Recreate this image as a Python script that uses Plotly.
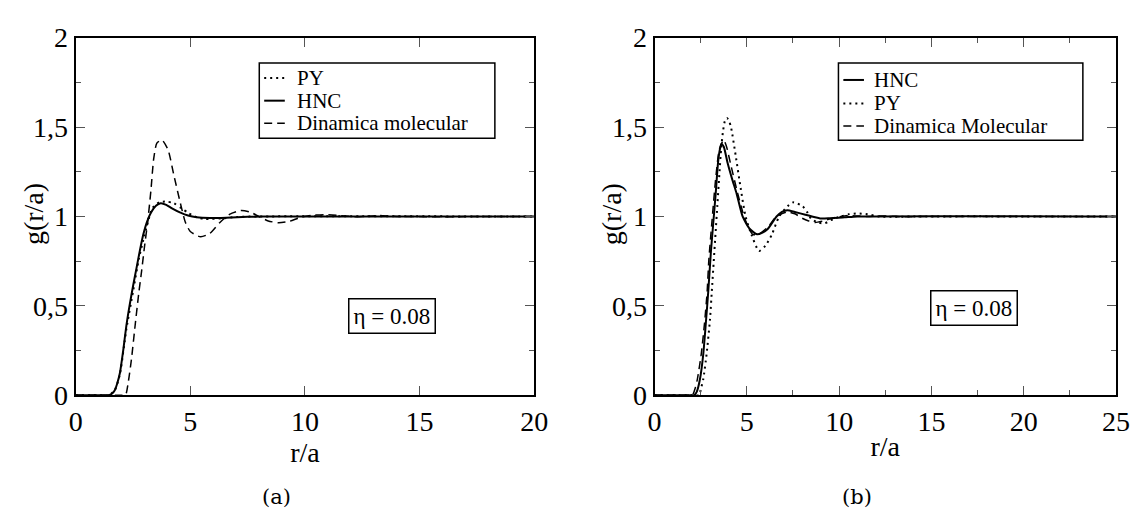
import plotly.graph_objects as go

W, H = 1143, 529

# ---------------- data ----------------
# Panel (a)
a_hnc_r = [0, 1.2, 1.43, 1.6, 1.71, 1.82, 1.93, 2.07, 2.21, 2.36, 2.5, 2.65, 2.8, 2.95, 3.11, 3.28, 3.5, 3.71,
           3.95, 4.2, 4.57, 4.9, 5.28, 5.85, 6.57, 7.5, 8.5, 20]
a_hnc_g = [0, 0, 0, 0.012, 0.03, 0.07, 0.126, 0.249, 0.39, 0.51, 0.61, 0.71, 0.81, 0.9, 0.97, 1.021, 1.06, 1.074,
           1.065, 1.045, 1.021, 1.005, 0.995, 0.991, 0.993, 0.998, 1.0, 1.0]

a_py_r = [0, 1.2, 1.45, 1.71, 1.93, 2.21, 2.5, 2.75, 2.95, 3.15, 3.35, 3.64, 3.97, 4.28, 4.6, 4.93, 5.3, 5.64,
          6.35, 7.0, 8.0, 20]
a_py_g = [0, 0, 0, 0.03, 0.12, 0.37, 0.58, 0.76, 0.87, 0.97, 1.047, 1.079, 1.083, 1.074, 1.047, 1.018, 0.995, 0.986,
          0.989, 0.997, 1.0, 1.0]

a_md_r = [0, 2.0, 2.17, 2.3, 2.43, 2.6, 2.75, 2.88, 3.0, 3.14, 3.28, 3.4, 3.54, 3.76, 4.03, 4.28, 4.6, 4.78, 5.0,
          5.45, 5.85, 6.28, 6.71, 7.2, 7.6, 7.99, 8.4, 8.85, 9.3, 9.85, 10.4, 10.85, 11.5, 12.3, 13.2, 14.0, 20]
a_md_g = [0, 0, 0, 0.08, 0.2, 0.4, 0.57, 0.7, 0.83, 0.97, 1.144, 1.32, 1.41, 1.428, 1.372, 1.232, 1.056, 0.969, 0.916,
          0.886, 0.905, 0.965, 1.012, 1.033, 1.025, 1.0, 0.975, 0.965, 0.972, 0.997, 1.007, 1.01, 1.005, 0.998, 1.005,
          1.0, 1.0]

# Panel (b)
b_hnc_r = [0, 2.0, 2.14, 2.29, 2.46, 2.64, 2.78, 2.91, 3.05, 3.17, 3.31, 3.44, 3.53, 3.62, 3.75, 3.95, 4.2, 4.45,
           4.77, 5.16, 5.55, 5.85, 6.13, 6.61, 6.9, 7.2, 7.6, 8.17, 8.97, 9.5, 10.3, 11.0, 25]
b_hnc_g = [0, 0, 0, 0.021, 0.091, 0.232, 0.407, 0.582, 0.8, 0.951, 1.126, 1.302, 1.37, 1.407, 1.39, 1.302, 1.21,
           1.126, 1.0, 0.93, 0.9, 0.91, 0.93, 1.0, 1.025, 1.035, 1.025, 1.01, 0.989, 0.99, 0.995, 1.0, 1.0]

b_py_r = [0, 2.2, 2.41, 2.52, 2.64, 2.82, 3.0, 3.1, 3.2, 3.3, 3.4, 3.5, 3.6, 3.7, 3.8, 3.92, 4.05, 4.15, 4.4, 4.66,
          4.93, 5.25, 5.66, 6.01, 6.35, 6.75, 7.29, 7.55, 8.03, 8.26, 8.5, 8.9, 9.23, 9.68, 10.1, 10.5, 11.0, 11.54,
          12.2, 13.0, 14.0, 25]
b_py_g = [0, 0, 0, 0.04, 0.091, 0.232, 0.42, 0.58, 0.74, 0.9, 1.06, 1.22, 1.37, 1.47, 1.53, 1.551, 1.53, 1.495, 1.337,
          1.161, 1.0, 0.898, 0.807, 0.837, 0.898, 1.0, 1.065, 1.08, 1.056, 1.026, 0.985, 0.965, 0.962, 0.986, 1.0,
          1.012, 1.017, 1.012, 1.0, 0.998, 1.0, 1.0]

b_md_r = [0, 1.9, 2.05, 2.2, 2.32, 2.53, 2.71, 2.85, 2.94, 3.1, 3.3, 3.5, 3.74, 3.9, 4.1, 4.5, 4.85, 5.1, 5.34, 5.7,
          6.13, 6.61, 7.2, 7.6, 8.0, 8.35, 8.7, 9.2, 9.77, 10.5, 11.5, 12.5, 13.5, 14.5, 25]
b_md_g = [0, 0, 0, 0.04, 0.091, 0.232, 0.407, 0.582, 0.758, 0.96, 1.2, 1.37, 1.428, 1.39, 1.302, 1.13, 1.0, 0.935,
          0.898, 0.905, 0.94, 1.0, 1.025, 1.015, 0.99, 0.975, 0.966, 0.977, 0.994, 1.005, 1.0, 1.003, 0.998, 1.0, 1.0]

y_tickvals = [0, 0.5, 1, 1.5, 2]
y_ticktext = ["0", "0,5", "1", "1,5", "2"]
a_xticks = [0, 5, 10, 15, 20]
b_xticks = [0, 5, 10, 15, 20, 25]

a_legend = ["PY", "HNC", "Dinamica molecular"]
b_legend = ["HNC", "PY", "Dinamica Molecular"]
eta_text = "η = 0.08"
x_title = "r/a"
y_title = "g(r/a)"
captions = ["(a)", "(b)"]

# ---------------- styles ----------------
FONT = "Liberation Serif"
STY = {
    "HNC": dict(color="black", width=2, dash="solid"),
    "PY": dict(color="black", width=2, dash="2px,4px"),
    "MD": dict(color="black", width=1.5, dash="8px,5px"),
}


def xp(px):
    return px / W


def yp(py):
    return 1 - py / H


fig = go.Figure()

for r, g, key, xa, ya in [
    (a_py_r, a_py_g, "PY", "x", "y"),
    (a_hnc_r, a_hnc_g, "HNC", "x", "y"),
    (a_md_r, a_md_g, "MD", "x", "y"),
    (b_hnc_r, b_hnc_g, "HNC", "x2", "y2"),
    (b_py_r, b_py_g, "PY", "x2", "y2"),
    (b_md_r, b_md_g, "MD", "x2", "y2"),
]:
    fig.add_trace(go.Scatter(x=r, y=g, mode="lines", line=dict(shape="spline", smoothing=0.6, **STY[key]),
                             xaxis=xa, yaxis=ya, showlegend=False, hoverinfo="skip"))

axis_common = dict(showline=True, linecolor="black", linewidth=2, mirror="allticks", ticks="inside",
                   ticklen=9, tickwidth=1, tickcolor="#555", showgrid=False, zeroline=False,
                   tickfont=dict(family=FONT, size=28, color="black"),
                   title_font=dict(family=FONT, size=28, color="black"))

y_dom = [yp(404), yp(24)]
fig.update_layout(
    width=W, height=H, margin=dict(l=0, r=0, t=0, b=0), autosize=False,
    plot_bgcolor="white", paper_bgcolor="white",
    xaxis=dict(domain=[xp(70), xp(537)], range=[0, 20], tickvals=a_xticks, anchor="y",
               title=dict(text=x_title, standoff=0), **axis_common),
    yaxis=dict(domain=y_dom, range=[0, 2], tickvals=y_tickvals, ticktext=y_ticktext, anchor="x",
               minor=dict(dtick=0.25, ticklen=5, tickcolor="#555", ticks="inside"), **axis_common),
    xaxis2=dict(domain=[xp(659.7), xp(1129.7)], range=[0, 25], tickvals=b_xticks, anchor="y2",
                minor=dict(dtick=2.5, ticklen=5, tickcolor="#555", ticks="inside"),
                title=dict(text=x_title, standoff=0), **axis_common),
    yaxis2=dict(domain=y_dom, range=[0, 2], tickvals=y_tickvals, ticktext=y_ticktext, anchor="x2",
                minor=dict(dtick=0.25, ticklen=5, tickcolor="#555", ticks="inside"), **axis_common),
)

shapes = []
annotations = []

# y-axis titles
for cx in [27, 616]:
    annotations.append(dict(xref="paper", yref="paper", x=xp(cx), y=yp(212), text=y_title, showarrow=False,
                            textangle=-90, xanchor="center", yanchor="middle",
                            font=dict(family=FONT, size=28, color="black")))


def add_legend(box, rows, sx, tx, labels, keys, fsize):
    x0, y0, x1, y1 = box
    shapes.append(dict(type="rect", xref="paper", yref="paper", x0=xp(x0), x1=xp(x1), y0=yp(y1), y1=yp(y0),
                       line=dict(color="black", width=1.5), fillcolor="white", layer="above"))
    for ry, lab, key in zip(rows, labels, keys):
        st = STY[key]
        shapes.append(dict(type="line", xref="paper", yref="paper", x0=xp(sx[0]), x1=xp(sx[1]), y0=yp(ry),
                           y1=yp(ry), line=dict(color="black", width=st["width"], dash=st["dash"]), layer="above"))
        annotations.append(dict(xref="paper", yref="paper", x=xp(tx), y=yp(ry), text=lab, showarrow=False,
                                xanchor="left", yanchor="middle",
                                font=dict(family=FONT, size=fsize, color="black")))


add_legend((257, 51, 497, 131), [67, 91, 115], (262, 283), 293, a_legend, ["PY", "HNC", "MD"], 21)
add_legend((847, 51, 1096, 133), [69, 94, 118], (852, 873), 881, b_legend, ["HNC", "PY", "MD"], 21)

# eta boxes
for cx, cy in [(392, 319.5), (985, 311.5)]:
    annotations.append(dict(xref="paper", yref="paper", x=xp(cx), y=yp(cy), text=eta_text, showarrow=False,
                            xanchor="center", yanchor="middle", bordercolor="black", borderwidth=1.5,
                            borderpad=4, bgcolor="white",
                            font=dict(family=FONT, size=23, color="black")))

# captions
for cx, lab in zip([275, 866], captions):
    annotations.append(dict(xref="paper", yref="paper", x=xp(cx), y=yp(512), text=lab, showarrow=False,
                            xanchor="center", yanchor="middle",
                            font=dict(family="DejaVu Serif, serif", size=21, color="black")))

fig.update_layout(shapes=shapes, annotations=annotations)

fig.write_html("out.html")
